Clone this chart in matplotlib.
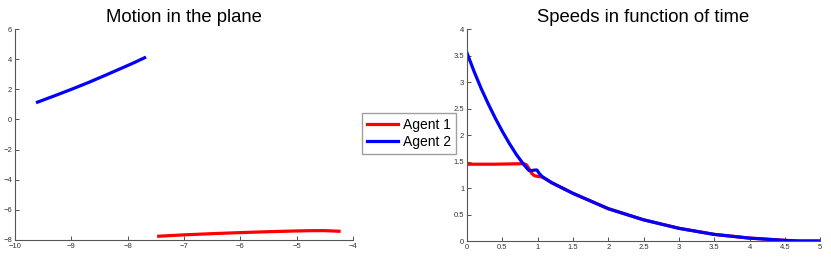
import matplotlib
matplotlib.use("Agg")
import matplotlib.pyplot as plt
import numpy as np

plt.rcParams['font.family'] = ['Liberation Sans', 'DejaVu Sans']

# --- Trajectories in the plane ---
agent1_x = [-7.45, -7.2, -7.0, -6.5, -6.0, -5.5, -5.0, -4.7, -4.5, -4.25]
agent1_y = [-7.75, -7.70, -7.66, -7.58, -7.51, -7.45, -7.40, -7.38, -7.38, -7.42]
agent2_x = [-9.6, -9.3, -9.0, -8.7, -8.4, -8.1, -7.9, -7.7]
agent2_y = [1.15, 1.57, 2.00, 2.45, 2.93, 3.42, 3.75, 4.10]

# --- Speeds over time ---
t2 = [0, 0.1, 0.2, 0.3, 0.4, 0.5, 0.6, 0.7, 0.8, 0.85, 0.88, 0.92, 0.96,
      0.99, 1.02, 1.06, 1.2, 1.5, 2.0, 2.5, 3.0, 3.5, 4.0, 4.5, 4.7, 5.0]
v2 = [3.55, 3.20, 2.88, 2.59, 2.32, 2.07, 1.84, 1.63, 1.45, 1.37, 1.33,
      1.33, 1.34, 1.34, 1.28, 1.22, 1.10, 0.90, 0.61, 0.40, 0.24, 0.125,
      0.055, 0.012, 0.0, 0.0]
t1 = [0, 0.4, 0.8, 0.84, 0.88, 0.92, 0.96, 1.0, 1.06, 1.2, 1.5, 2.0, 2.5,
      3.0, 3.5, 4.0, 4.5, 4.7, 5.0]
v1 = [1.45, 1.45, 1.46, 1.44, 1.36, 1.27, 1.23, 1.22, 1.21, 1.10, 0.90,
      0.61, 0.40, 0.24, 0.125, 0.055, 0.012, 0.0, 0.0]

fig = plt.figure(figsize=(8.31, 2.6), dpi=100)
ax1 = fig.add_axes([0.018, 0.077, 0.407, 0.811])
ax2 = fig.add_axes([0.562, 0.073, 0.425, 0.815])

lw = 2.3
l1, = ax1.plot(agent1_x, agent1_y, color='red', linewidth=lw, label='Agent 1')
l2, = ax1.plot(agent2_x, agent2_y, color='blue', linewidth=lw, label='Agent 2')
ax1.set_xlim(-10, -4)
ax1.set_ylim(-8, 6)
ax1.set_xticks(np.arange(-10, -3, 1))
ax1.set_yticks(np.arange(-8, 7, 2))
ax1.set_title('Motion in the plane', fontsize=13.3, pad=5)

ax2.plot(t1, v1, color='red', linewidth=lw)
ax2.plot(t2, v2, color='blue', linewidth=lw)
ax2.set_xlim(0, 5)
ax2.set_ylim(0, 4)
ax2.set_xticks(np.arange(0, 5.01, 0.5))
ax2.set_yticks(np.arange(0, 4.01, 0.5))
ax2.set_xticklabels(['0', '0.5', '1', '1.5', '2', '2.5', '3', '3.5', '4', '4.5', '5'])
ax2.set_yticklabels(['0', '0.5', '1', '1.5', '2', '2.5', '3', '3.5', '4'])
ax2.set_title('Speeds in function of time', fontsize=13.3, pad=5)

for ax in (ax1, ax2):
    ax.spines['top'].set_visible(False)
    ax.spines['right'].set_visible(False)
    for s in ('left', 'bottom'):
        ax.spines[s].set_color('#555555')
        ax.spines[s].set_linewidth(0.8)
    ax.tick_params(direction='in', length=3, width=0.6, labelsize=5.5,
                   colors='#333333', pad=2)

fig.legend(handles=[l1, l2], loc='center', bbox_to_anchor=(0.4925, 0.487),
           fontsize=10, frameon=True, fancybox=False, edgecolor='#888888',
           handlelength=2.2, handletextpad=0.4, borderpad=0.35, labelspacing=0.2)

fig.savefig('out.png', dpi=100)
